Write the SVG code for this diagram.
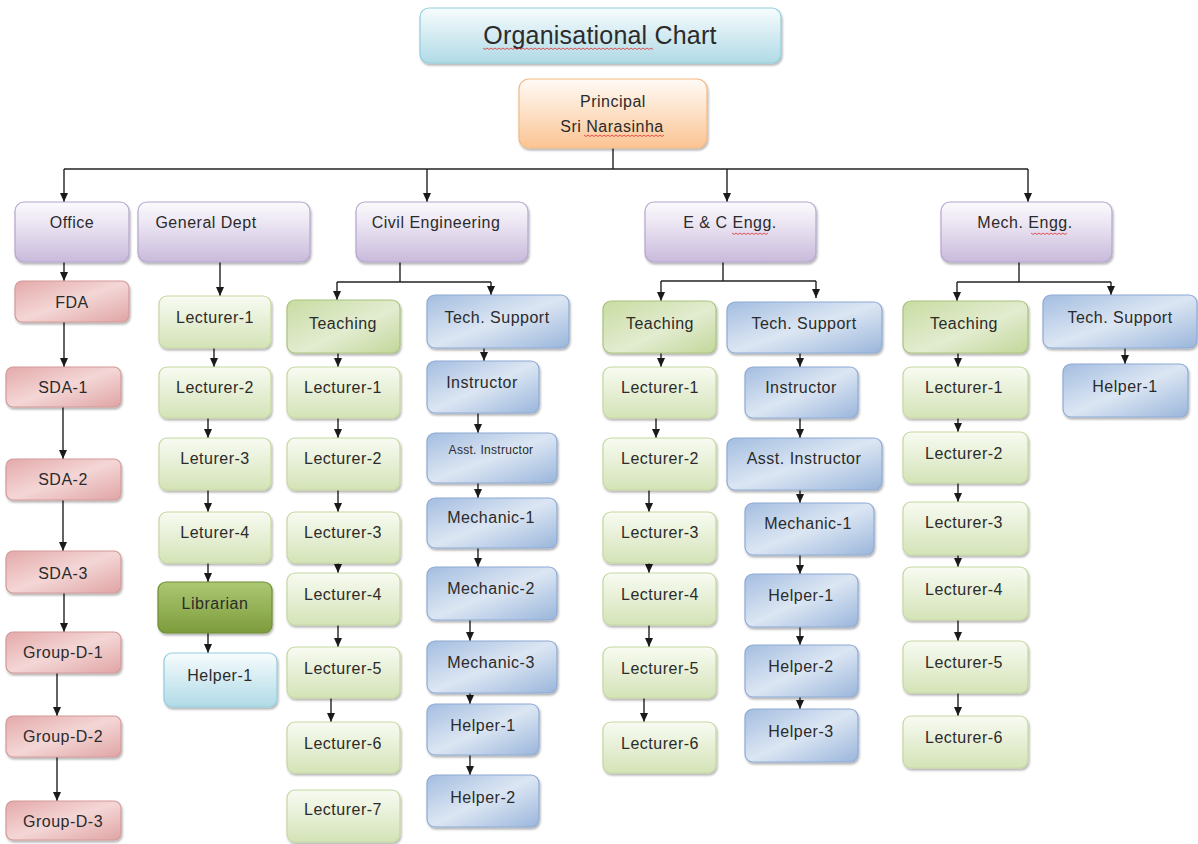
<svg xmlns="http://www.w3.org/2000/svg" width="1198" height="844" viewBox="0 0 1198 844">
<defs>
<linearGradient id="gPurple" x1="0" y1="0" x2="0" y2="1"><stop offset="0" stop-color="#fbfafd"/><stop offset="0.35" stop-color="#ece6f3"/><stop offset="1" stop-color="#c8badb"/></linearGradient>
<linearGradient id="gRed" x1="0" y1="0" x2="1" y2="1"><stop offset="0" stop-color="#e4a9a9"/><stop offset="0.5" stop-color="#f4d6d6"/><stop offset="1" stop-color="#e0a4a4"/></linearGradient>
<linearGradient id="gLGreen" x1="0" y1="0" x2="0" y2="1"><stop offset="0" stop-color="#f8fbf2"/><stop offset="1" stop-color="#d4e3b7"/></linearGradient>
<linearGradient id="gTeach" x1="0" y1="0" x2="1" y2="1"><stop offset="0" stop-color="#c9dca2"/><stop offset="0.55" stop-color="#e2ecd0"/><stop offset="1" stop-color="#c3d79a"/></linearGradient>
<linearGradient id="gLib" x1="0" y1="0" x2="0" y2="1"><stop offset="0" stop-color="#acc873"/><stop offset="1" stop-color="#7d9c3c"/></linearGradient>
<linearGradient id="gBlue" x1="0" y1="0" x2="1" y2="1"><stop offset="0" stop-color="#a3bde0"/><stop offset="0.5" stop-color="#dce6f3"/><stop offset="1" stop-color="#9ab6db"/></linearGradient>
<linearGradient id="gLBlue" x1="0" y1="0" x2="0" y2="1"><stop offset="0" stop-color="#f7fcfd"/><stop offset="1" stop-color="#b0dae6"/></linearGradient>
<linearGradient id="gOrange" x1="0" y1="0" x2="0" y2="1"><stop offset="0" stop-color="#fffbf7"/><stop offset="1" stop-color="#fbc493"/></linearGradient>
<filter id="sh" x="-10%" y="-10%" width="130%" height="140%"><feDropShadow dx="1" dy="2" stdDeviation="1.2" flood-color="#000" flood-opacity="0.3"/></filter>
<marker id="ah" markerUnits="userSpaceOnUse" markerWidth="9" markerHeight="8" viewBox="0 0 9 8" refX="9" refY="4" orient="auto"><path d="M0,0 L9,4 L0,8 z" fill="#1a1a1a"/></marker>
</defs>
<style>
.n rect{filter:url(#sh);stroke-width:1.2}
.purple rect{fill:url(#gPurple);stroke:#b6a5cd}
.red rect{fill:url(#gRed);stroke:#d39a9a}
.lg rect{fill:url(#gLGreen);stroke:#c5d8a0}
.tg rect{fill:url(#gTeach);stroke:#a9c47c}
.lib rect{fill:url(#gLib);stroke:#6f8d34}
.blue rect{fill:url(#gBlue);stroke:#8eaad6}
.lb rect{fill:url(#gLBlue);stroke:#93cddd}
.or rect{fill:url(#gOrange);stroke:#f4b984}
text{font-family:"Liberation Sans",Arial,sans-serif;font-size:16px;letter-spacing:0.5px;fill:#2b2b2b;text-anchor:middle}
.title{font-size:25px;letter-spacing:0.2px}
.small{font-size:12px;letter-spacing:0.3px}
.conn path{fill:none;stroke:#222;stroke-width:1.4}
.conn path.a{marker-end:url(#ah)}
.sq{fill:none;stroke:#e03030;stroke-width:0.8}
</style>

<g class="conn" id="connectors">
<path d="M613 148 V169"/><path d="M64 169 H1028"/>
<path class="a" d="M64 169 V202"/><path class="a" d="M427 169 V202"/><path class="a" d="M727 169 V202"/><path class="a" d="M1028 169 V202"/>
<path class="a" d="M64 262 V281"/><path class="a" d="M64 322 V367"/><path class="a" d="M63 407 V459"/><path class="a" d="M63 500 V551"/><path class="a" d="M64 593 V632"/><path class="a" d="M57 673 V716"/><path class="a" d="M57 757 V801"/>
<path class="a" d="M220 262 V296"/><path class="a" d="M214 348 V367"/><path class="a" d="M208 418 V438"/><path class="a" d="M208 490 V512"/><path class="a" d="M208 563 V582"/><path class="a" d="M208 633 V653"/>
<path d="M400 262 V282"/><path d="M337 282 H491"/><path class="a" d="M337 282 V300"/><path class="a" d="M491 282 V295"/>
<path class="a" d="M338 353 V367"/><path class="a" d="M338 418 V438"/><path class="a" d="M338 490 V512"/><path class="a" d="M338 563 V573"/><path class="a" d="M338 625 V647"/><path class="a" d="M331 698 V722"/>
<path class="a" d="M484 348 V361"/><path class="a" d="M478 413 V433"/><path class="a" d="M478 483 V498"/><path class="a" d="M478 548 V567"/><path class="a" d="M470 620 V641"/><path class="a" d="M470 693 V704"/><path class="a" d="M470 755 V775"/>
<path d="M723 262 V281"/><path d="M661 281 H816"/><path class="a" d="M661 281 V301"/><path class="a" d="M816 281 V298"/>
<path class="a" d="M661 353 V367"/><path class="a" d="M656 418 V438"/><path class="a" d="M649 490 V512"/><path class="a" d="M649 563 V573"/><path class="a" d="M649 625 V647"/><path class="a" d="M644 698 V722"/>
<path class="a" d="M800 353 V367"/><path class="a" d="M800 418 V438"/><path class="a" d="M800 490 V503"/><path class="a" d="M800 555 V574"/><path class="a" d="M800 627 V645"/><path class="a" d="M800 697 V709"/>
<path d="M1019 262 V282"/><path d="M957 282 H1111"/><path class="a" d="M957 282 V301"/><path class="a" d="M1111 282 V295"/>
<path class="a" d="M958 353 V367"/><path class="a" d="M958 418 V432"/><path class="a" d="M958 483 V502"/><path class="a" d="M958 555 V567"/><path class="a" d="M958 620 V641"/><path class="a" d="M958 693 V716"/>
<path class="a" d="M1125 348 V364"/>
</g>

<g id="title" class="n lb"><rect x="420" y="8" width="361" height="55" rx="9"/><text class="title" x="600" y="44">Organisational Chart</text></g>
<g id="principal" class="n or"><rect x="519" y="79" width="188" height="69" rx="10"/><text x="613" y="107">Principal</text><text x="612" y="132">Sri Narasinha</text></g>

<g id="office" class="n purple"><rect x="15" y="202" width="114" height="60" rx="9"/><text x="72" y="228">Office</text></g>
<g id="general-dept" class="n purple"><rect x="138" y="202" width="172" height="60" rx="9"/><text x="206" y="228">General Dept</text></g>
<g id="civil" class="n purple"><rect x="356" y="202" width="172" height="60" rx="9"/><text x="436" y="228">Civil Engineering</text></g>
<g id="ec" class="n purple"><rect x="645" y="202" width="171" height="60" rx="9"/><text x="730" y="228">E &amp; C Engg.</text></g>
<g id="mech" class="n purple"><rect x="941" y="202" width="171" height="60" rx="9"/><text x="1025" y="228">Mech. Engg.</text></g>

<g id="fda" class="n red"><rect x="15" y="281" width="114" height="41" rx="7"/><text x="72" y="308">FDA</text></g>
<g id="sda1" class="n red"><rect x="6" y="367" width="115" height="40" rx="7"/><text x="63" y="393">SDA-1</text></g>
<g id="sda2" class="n red"><rect x="6" y="459" width="115" height="41" rx="7"/><text x="63" y="485">SDA-2</text></g>
<g id="sda3" class="n red"><rect x="6" y="551" width="115" height="42" rx="7"/><text x="63" y="579">SDA-3</text></g>
<g id="gd1" class="n red"><rect x="6" y="632" width="115" height="41" rx="7"/><text x="63" y="658">Group-D-1</text></g>
<g id="gd2" class="n red"><rect x="6" y="716" width="115" height="41" rx="7"/><text x="63" y="742">Group-D-2</text></g>
<g id="gd3" class="n red"><rect x="6" y="801" width="115" height="39" rx="7"/><text x="63" y="827">Group-D-3</text></g>

<g id="g-l1" class="n lg"><rect x="159" y="296" width="112" height="52" rx="8"/><text x="215" y="323">Lecturer-1</text></g>
<g id="g-l2" class="n lg"><rect x="159" y="367" width="112" height="51" rx="8"/><text x="215" y="393">Lecturer-2</text></g>
<g id="g-l3" class="n lg"><rect x="159" y="438" width="112" height="52" rx="8"/><text x="215" y="464">Leturer-3</text></g>
<g id="g-l4" class="n lg"><rect x="159" y="512" width="112" height="51" rx="8"/><text x="215" y="538">Leturer-4</text></g>
<g id="librarian" class="n lib"><rect x="158" y="582" width="114" height="51" rx="8"/><text x="215" y="609">Librarian</text></g>
<g id="g-helper1" class="n lb"><rect x="164" y="653" width="113" height="54" rx="8"/><text x="220" y="681">Helper-1</text></g>

<g id="c-teaching" class="n tg"><rect x="287" y="300" width="113" height="53" rx="8"/><text x="343" y="329">Teaching</text></g>
<g id="c-tech" class="n blue"><rect x="427" y="295" width="142" height="53" rx="8"/><text x="497" y="323">Tech. Support</text></g>
<g id="c-l1" class="n lg"><rect x="287" y="367" width="113" height="51" rx="8"/><text x="343" y="393">Lecturer-1</text></g>
<g id="c-l2" class="n lg"><rect x="287" y="438" width="113" height="52" rx="8"/><text x="343" y="464">Lecturer-2</text></g>
<g id="c-l3" class="n lg"><rect x="287" y="512" width="113" height="51" rx="8"/><text x="343" y="538">Lecturer-3</text></g>
<g id="c-l4" class="n lg"><rect x="287" y="573" width="113" height="52" rx="8"/><text x="343" y="600">Lecturer-4</text></g>
<g id="c-l5" class="n lg"><rect x="287" y="647" width="113" height="51" rx="8"/><text x="343" y="674">Lecturer-5</text></g>
<g id="c-l6" class="n lg"><rect x="287" y="722" width="113" height="51" rx="8"/><text x="343" y="749">Lecturer-6</text></g>
<g id="c-l7" class="n lg"><rect x="287" y="790" width="113" height="52" rx="8"/><text x="343" y="815">Lecturer-7</text></g>
<g id="c-instructor" class="n blue"><rect x="427" y="361" width="112" height="52" rx="8"/><text x="482" y="388">Instructor</text></g>
<g id="c-asst" class="n blue"><rect x="427" y="433" width="130" height="50" rx="8"/><text class="small" x="491" y="454">Asst. Instructor</text></g>
<g id="c-m1" class="n blue"><rect x="427" y="498" width="130" height="50" rx="8"/><text x="491" y="523">Mechanic-1</text></g>
<g id="c-m2" class="n blue"><rect x="427" y="567" width="130" height="53" rx="8"/><text x="491" y="594">Mechanic-2</text></g>
<g id="c-m3" class="n blue"><rect x="427" y="641" width="130" height="52" rx="8"/><text x="491" y="668">Mechanic-3</text></g>
<g id="c-h1" class="n blue"><rect x="427" y="704" width="112" height="51" rx="8"/><text x="483" y="731">Helper-1</text></g>
<g id="c-h2" class="n blue"><rect x="427" y="775" width="112" height="52" rx="8"/><text x="483" y="803">Helper-2</text></g>

<g id="e-teaching" class="n tg"><rect x="603" y="301" width="113" height="52" rx="8"/><text x="660" y="329">Teaching</text></g>
<g id="e-tech" class="n blue"><rect x="727" y="302" width="155" height="51" rx="8"/><text x="804" y="329">Tech. Support</text></g>
<g id="e-l1" class="n lg"><rect x="603" y="367" width="113" height="51" rx="8"/><text x="660" y="393">Lecturer-1</text></g>
<g id="e-l2" class="n lg"><rect x="603" y="438" width="113" height="52" rx="8"/><text x="660" y="464">Lecturer-2</text></g>
<g id="e-l3" class="n lg"><rect x="603" y="512" width="113" height="51" rx="8"/><text x="660" y="538">Lecturer-3</text></g>
<g id="e-l4" class="n lg"><rect x="603" y="573" width="113" height="52" rx="8"/><text x="660" y="600">Lecturer-4</text></g>
<g id="e-l5" class="n lg"><rect x="603" y="647" width="113" height="51" rx="8"/><text x="660" y="674">Lecturer-5</text></g>
<g id="e-l6" class="n lg"><rect x="603" y="722" width="113" height="51" rx="8"/><text x="660" y="749">Lecturer-6</text></g>
<g id="e-instructor" class="n blue"><rect x="745" y="367" width="113" height="51" rx="8"/><text x="801" y="393">Instructor</text></g>
<g id="e-asst" class="n blue"><rect x="727" y="438" width="155" height="52" rx="8"/><text x="804" y="464">Asst. Instructor</text></g>
<g id="e-m1" class="n blue"><rect x="745" y="503" width="129" height="52" rx="8"/><text x="808" y="529">Mechanic-1</text></g>
<g id="e-h1" class="n blue"><rect x="745" y="574" width="113" height="53" rx="8"/><text x="801" y="601">Helper-1</text></g>
<g id="e-h2" class="n blue"><rect x="745" y="645" width="113" height="52" rx="8"/><text x="801" y="672">Helper-2</text></g>
<g id="e-h3" class="n blue"><rect x="745" y="709" width="113" height="53" rx="8"/><text x="801" y="737">Helper-3</text></g>

<g id="m-teaching" class="n tg"><rect x="903" y="301" width="125" height="52" rx="8"/><text x="964" y="329">Teaching</text></g>
<g id="m-tech" class="n blue"><rect x="1043" y="295" width="154" height="53" rx="8"/><text x="1120" y="323">Tech. Support</text></g>
<g id="m-h1" class="n blue"><rect x="1063" y="364" width="125" height="53" rx="8"/><text x="1125" y="392">Helper-1</text></g>
<g id="m-l1" class="n lg"><rect x="903" y="367" width="125" height="51" rx="8"/><text x="964" y="393">Lecturer-1</text></g>
<g id="m-l2" class="n lg"><rect x="903" y="432" width="125" height="51" rx="8"/><text x="964" y="459">Lecturer-2</text></g>
<g id="m-l3" class="n lg"><rect x="903" y="502" width="125" height="53" rx="8"/><text x="964" y="528">Lecturer-3</text></g>
<g id="m-l4" class="n lg"><rect x="903" y="567" width="125" height="53" rx="8"/><text x="964" y="595">Lecturer-4</text></g>
<g id="m-l5" class="n lg"><rect x="903" y="641" width="125" height="52" rx="8"/><text x="964" y="668">Lecturer-5</text></g>
<g id="m-l6" class="n lg"><rect x="903" y="716" width="125" height="52" rx="8"/><text x="964" y="743">Lecturer-6</text></g>

<g id="spellmarks">
<path class="sq" d="M483 48 l2 1.5 l2 -1.5 l2 1.5 l2 -1.5 l2 1.5 l2 -1.5 l2 1.5 l2 -1.5 l2 1.5 l2 -1.5 l2 1.5 l2 -1.5 l2 1.5 l2 -1.5 l2 1.5 l2 -1.5 l2 1.5 l2 -1.5 l2 1.5 l2 -1.5 l2 1.5 l2 -1.5 l2 1.5 l2 -1.5 l2 1.5 l2 -1.5 l2 1.5 l2 -1.5 l2 1.5 l2 -1.5 l2 1.5 l2 -1.5 l2 1.5 l2 -1.5 l2 1.5 l2 -1.5 l2 1.5 l2 -1.5 l2 1.5 l2 -1.5 l2 1.5 l2 -1.5 l2 1.5 l2 -1.5 l2 1.5 l2 -1.5 l2 1.5 l2 -1.5 l2 1.5 l2 -1.5 l2 1.5 l2 -1.5 l2 1.5 l2 -1.5 l2 1.5 l2 -1.5 l2 1.5 l2 -1.5 l2 1.5 l2 -1.5 l2 1.5 l2 -1.5 l2 1.5 l2 -1.5 l2 1.5 l2 -1.5 l2 1.5 l2 -1.5 l2 1.5 l2 -1.5 l2 1.5 l2 -1.5 l2 1.5 l2 -1.5 l2 1.5 l2 -1.5 l2 1.5 l2 -1.5 l2 1.5 l2 -1.5 l2 1.5 l2 -1.5 l2 1.5 l2 -1.5 l2 1.5"/>
<path class="sq" d="M584 135 l2 1.5 l2 -1.5 l2 1.5 l2 -1.5 l2 1.5 l2 -1.5 l2 1.5 l2 -1.5 l2 1.5 l2 -1.5 l2 1.5 l2 -1.5 l2 1.5 l2 -1.5 l2 1.5 l2 -1.5 l2 1.5 l2 -1.5 l2 1.5 l2 -1.5 l2 1.5 l2 -1.5 l2 1.5 l2 -1.5 l2 1.5 l2 -1.5 l2 1.5 l2 -1.5 l2 1.5 l2 -1.5 l2 1.5 l2 -1.5 l2 1.5 l2 -1.5 l2 1.5 l2 -1.5 l2 1.5 l2 -1.5 l2 1.5 l2 -1.5"/>
<path class="sq" d="M732 233 l2 1.5 l2 -1.5 l2 1.5 l2 -1.5 l2 1.5 l2 -1.5 l2 1.5 l2 -1.5 l2 1.5 l2 -1.5 l2 1.5 l2 -1.5 l2 1.5 l2 -1.5 l2 1.5 l2 -1.5 l2 1.5 l2 -1.5"/>
<path class="sq" d="M1031 233 l2 1.5 l2 -1.5 l2 1.5 l2 -1.5 l2 1.5 l2 -1.5 l2 1.5 l2 -1.5 l2 1.5 l2 -1.5 l2 1.5 l2 -1.5 l2 1.5 l2 -1.5 l2 1.5 l2 -1.5 l2 1.5 l2 -1.5"/>
</g>
</svg>
